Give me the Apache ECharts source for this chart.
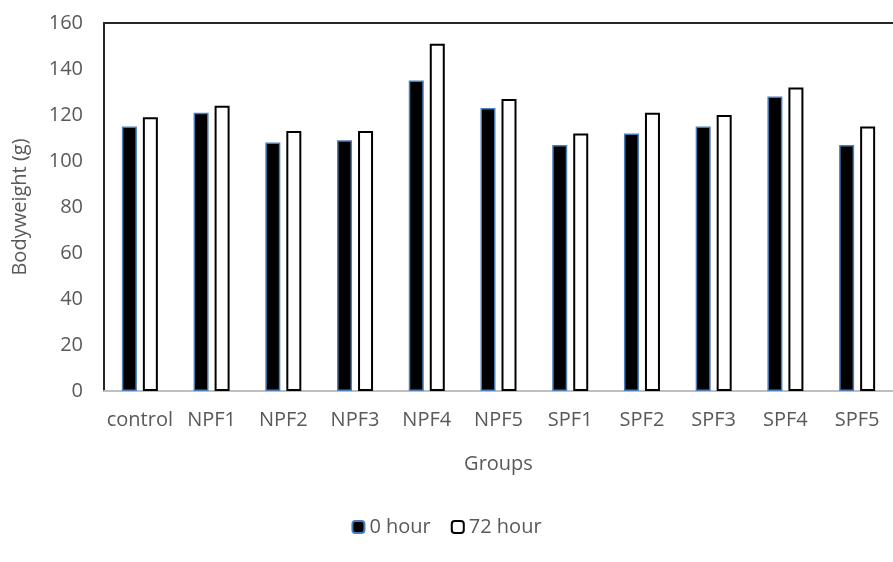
<!DOCTYPE html>
<html>
<head>
<meta charset="utf-8">
<script src="https://cdn.jsdelivr.net/npm/echarts@6/dist/echarts.min.js"></script>
<style>
  html, body { margin: 0; padding: 0; background: #fff; }
  #chart { width: 893px; height: 562px; }
</style>
</head>
<body>
<div id="chart"></div>
<script>
// Body weight per group, at the start and after 72 hours
const groups = ['control', 'NPF1', 'NPF2', 'NPF3', 'NPF4', 'NPF5', 'SPF1', 'SPF2', 'SPF3', 'SPF4', 'SPF5'];
const hour0 = [115, 121, 108, 109, 135, 123, 107, 112, 115, 128, 107];
const hour72 = [119, 124, 113, 113, 151, 127, 112, 121, 120, 132, 115];
const seriesNames = ['0 hour', '72 hour'];
const yTicks = { min: 0, max: 160, interval: 20 };

const FONT = '"Open Sans", "Liberation Sans", sans-serif';
const TEXT = '#595959';

const chart = echarts.init(document.getElementById('chart'), null, { renderer: 'canvas' });

chart.setOption({
  animation: false,
  backgroundColor: '#ffffff',
  textStyle: { fontFamily: FONT, color: TEXT },
  grid: { left: 104, top: 23, right: -10, bottom: 171, containLabel: false },
  legend: {
    data: seriesNames,
    top: 512,
    left: 'center',
    itemWidth: 12,
    itemHeight: 12,
    itemGap: 20,
    textStyle: { fontFamily: FONT, fontSize: 20, color: TEXT }
  },
  xAxis: [
    {
      type: 'category',
      data: groups,
      name: 'Groups',
      nameLocation: 'middle',
      nameGap: 63,
      nameTextStyle: { fontFamily: FONT, fontSize: 20, color: TEXT },
      axisLine: { show: true, lineStyle: { color: '#bfbfbf', width: 2 } },
      axisTick: { show: false },
      axisLabel: { fontFamily: FONT, fontSize: 20, color: TEXT, margin: 19, interval: 0 }
    },
    {
      // top frame line of the plot area
      type: 'category',
      data: groups,
      position: 'top',
      axisLine: { show: true, lineStyle: { color: '#262626', width: 2 } },
      axisTick: { show: false },
      axisLabel: { show: false }
    }
  ],
  yAxis: {
    type: 'value',
    min: yTicks.min,
    max: yTicks.max,
    interval: yTicks.interval,
    name: 'Bodyweight (g)',
    nameLocation: 'middle',
    nameGap: 74,
    nameRotate: 90,
    nameTextStyle: { fontFamily: FONT, fontSize: 20, color: TEXT },
    axisLine: { show: true, lineStyle: { color: '#262626', width: 2 } },
    axisTick: { show: false },
    splitLine: { show: false },
    axisLabel: { fontFamily: FONT, fontSize: 20, color: TEXT, margin: 21 }
  },
  series: [
    {
      name: seriesNames[0],
      type: 'bar',
      data: hour0,
      barWidth: 15,
      barGap: '40%',
      itemStyle: { color: '#000000', borderColor: '#4a7ebb', borderWidth: 1.5 }
    },
    {
      name: seriesNames[1],
      type: 'bar',
      data: hour72,
      barWidth: 15,
      itemStyle: { color: '#ffffff', borderColor: '#000000', borderWidth: 2 }
    }
  ]
});
</script>
</body>
</html>
